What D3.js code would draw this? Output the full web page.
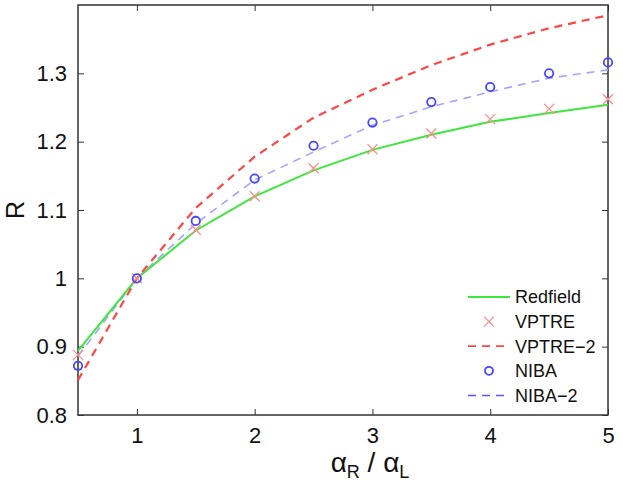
<!DOCTYPE html>
<html>
<head>
<meta charset="utf-8">
<script src="https://cdn.jsdelivr.net/npm/d3@7"></script>
<style>
  html, body { margin: 0; padding: 0; background: #fff; }
  svg { display: block; font-family: "Liberation Sans", Arial, sans-serif; }
</style>
</head>
<body>
<div id="chart"></div>
<script>
// datos
const ratios = [0.5, 1, 1.5, 2, 2.5, 3, 3.5, 4, 4.5, 5];
const redfield = [0.894, 1.0, 1.070, 1.120, 1.158, 1.188, 1.210, 1.229, 1.242, 1.254];
const vptre = [0.888, 1.0, 1.071, 1.120, 1.161, 1.189, 1.212, 1.233, 1.248, 1.262];
const vptre2 = [0.851, 1.0, 1.103, 1.178, 1.235, 1.276, 1.312, 1.342, 1.366, 1.385];
const niba = [0.872, 1.0, 1.084, 1.146, 1.194, 1.228, 1.258, 1.280, 1.300, 1.316];
const niba2 = [0.886, 1.0, 1.080, 1.144, 1.185, 1.224, 1.251, 1.273, 1.293, 1.305];
const xTicks = [1, 2, 3, 4, 5];
const yTicks = [0.8, 0.9, 1.0, 1.1, 1.2, 1.3];
const yTickLabels = ["0.8", "0.9", "1", "1.1", "1.2", "1.3"];
const legendNames = ["Redfield", "VPTRE", "VPTRE\u22122", "NIBA", "NIBA\u22122"];

const W = 623, H = 484;
const margin = {top: 5, right: 15, bottom: 69, left: 78};

const svg = d3.select("#chart").append("svg")
    .attr("width", W)
    .attr("height", H);

const x = d3.scaleLinear().domain([0.5, 5]).range([margin.left, W - margin.right]);
const y = d3.scaleLinear().domain([0.8, 1.4]).range([H - margin.bottom, margin.top]);

const axisColor = "#333";

// ejes con marcas hacia adentro (estilo matlab)
svg.append("g")
    .attr("transform", `translate(0,${y(0.8)})`)
    .call(d3.axisBottom(x).tickValues(xTicks).tickSizeInner(-6).tickSizeOuter(0).tickPadding(12).tickFormat(d3.format("d")))
    .call(g => g.select(".domain").remove())
    .call(g => g.selectAll("line").attr("stroke", axisColor))
    .call(g => g.selectAll("text").attr("font-size", "22px").attr("fill", "#111").attr("font-family", null));

svg.append("g")
    .attr("transform", `translate(0,${y(1.4)})`)
    .call(d3.axisTop(x).tickValues(xTicks).tickSizeInner(-6).tickSizeOuter(0).tickFormat(""))
    .call(g => g.select(".domain").remove())
    .call(g => g.selectAll("line").attr("stroke", axisColor));

svg.append("g")
    .attr("transform", `translate(${x(0.5)},0)`)
    .call(d3.axisLeft(y).tickValues(yTicks).tickSizeInner(-6).tickSizeOuter(0).tickPadding(11)
        .tickFormat((d, i) => yTickLabels[i]))
    .call(g => g.select(".domain").remove())
    .call(g => g.selectAll("line").attr("stroke", axisColor))
    .call(g => g.selectAll("text").attr("font-size", "22px").attr("fill", "#111").attr("font-family", null));

svg.append("g")
    .attr("transform", `translate(${x(5)},0)`)
    .call(d3.axisRight(y).tickValues(yTicks).tickSizeInner(-6).tickSizeOuter(0).tickFormat(""))
    .call(g => g.select(".domain").remove())
    .call(g => g.selectAll("line").attr("stroke", axisColor));

// caja
svg.append("rect")
    .attr("x", x(0.5))
    .attr("y", y(1.4))
    .attr("width", x(5) - x(0.5))
    .attr("height", y(0.8) - y(1.4))
    .attr("fill", "none")
    .attr("stroke", axisColor)
    .attr("stroke-width", 1.5);

const plot = svg.append("g");

const line = d3.line()
    .x((d, i) => x(ratios[i]))
    .y(d => y(d));

// series
const styles = {
    redfield: {color: "#3ee63e", width: 2, dash: null},
    vptre2: {color: "#ff4646", width: 2.2, dash: "8,6"},
    niba2: {color: "#a4a4ff", width: 1.6, dash: "8,6"}
};

plot.append("path")
    .datum(niba2)
    .attr("d", line)
    .attr("fill", "none")
    .attr("stroke", styles.niba2.color)
    .attr("stroke-width", styles.niba2.width)
    .attr("stroke-dasharray", styles.niba2.dash);

plot.append("path")
    .datum(redfield)
    .attr("d", line)
    .attr("fill", "none")
    .attr("stroke", styles.redfield.color)
    .attr("stroke-width", styles.redfield.width);

plot.append("path")
    .datum(vptre2)
    .attr("d", line)
    .attr("fill", "none")
    .attr("stroke", styles.vptre2.color)
    .attr("stroke-width", styles.vptre2.width)
    .attr("stroke-dasharray", styles.vptre2.dash);

const crossColor = "#ff8c8c";
const circleColor = "#4646ff";
const cs = 5;

function crossPath(cx, cy, s) {
    return `M${cx - s},${cy - s}L${cx + s},${cy + s}M${cx - s},${cy + s}L${cx + s},${cy - s}`;
}

plot.selectAll(".cross")
    .data(vptre)
    .enter()
    .append("path")
    .attr("class", "cross")
    .attr("d", (d, i) => crossPath(x(ratios[i]), y(d), cs))
    .attr("stroke", crossColor)
    .attr("stroke-width", 1.3)
    .attr("fill", "none");

plot.selectAll(".circ")
    .data(niba)
    .enter()
    .append("circle")
    .attr("class", "circ")
    .attr("cx", (d, i) => x(ratios[i]))
    .attr("cy", d => y(d))
    .attr("r", 4.2)
    .attr("fill", "none")
    .attr("stroke", circleColor)
    .attr("stroke-width", 1.8);

// leyenda
const legend = svg.append("g").attr("transform", "translate(468,297)");
const rowH = 24.6;

legendNames.forEach((name, i) => {
    const g = legend.append("g").attr("transform", `translate(0,${i * rowH})`);
    if (i === 0) {
        g.append("line").attr("x1", 0).attr("x2", 42).attr("y1", 0).attr("y2", 0)
            .attr("stroke", styles.redfield.color).attr("stroke-width", 2);
    } else if (i === 1) {
        g.append("path").attr("d", crossPath(21, 0, cs))
            .attr("stroke", crossColor).attr("stroke-width", 1.3).attr("fill", "none");
    } else if (i === 2) {
        g.append("line").attr("x1", 0).attr("x2", 42).attr("y1", 0).attr("y2", 0)
            .attr("stroke", styles.vptre2.color).attr("stroke-width", 1.8).attr("stroke-dasharray", "8,6");
    } else if (i === 3) {
        g.append("circle").attr("cx", 21).attr("cy", 0).attr("r", 4)
            .attr("stroke", circleColor).attr("stroke-width", 1.8).attr("fill", "none");
    } else {
        g.append("line").attr("x1", 0).attr("x2", 42).attr("y1", 0).attr("y2", 0)
            .attr("stroke", "#5a5aff").attr("stroke-width", 1.5).attr("stroke-dasharray", "8,6");
    }
    g.append("text")
        .attr("x", 47)
        .attr("y", 0)
        .attr("dy", "0.36em")
        .attr("font-size", "18px")
        .attr("fill", "#111")
        .text(name);
});

// etiquetas de ejes
svg.append("text")
    .attr("transform", `translate(24,${(y(0.8) + y(1.4)) / 2}) rotate(-90)`)
    .attr("text-anchor", "middle")
    .attr("font-size", "25px")
    .attr("fill", "#111")
    .text("R");

const xl = svg.append("text")
    .attr("x", 370)
    .attr("y", 472)
    .attr("text-anchor", "middle")
    .attr("font-size", "28px")
    .attr("fill", "#111");
xl.append("tspan").text("\u03b1");
xl.append("tspan").attr("font-size", "18px").attr("dy", 6).text("R");
xl.append("tspan").attr("dy", -6).text(" / \u03b1");
xl.append("tspan").attr("font-size", "18px").attr("dy", 6).text("L");
</script>
</body>
</html>
